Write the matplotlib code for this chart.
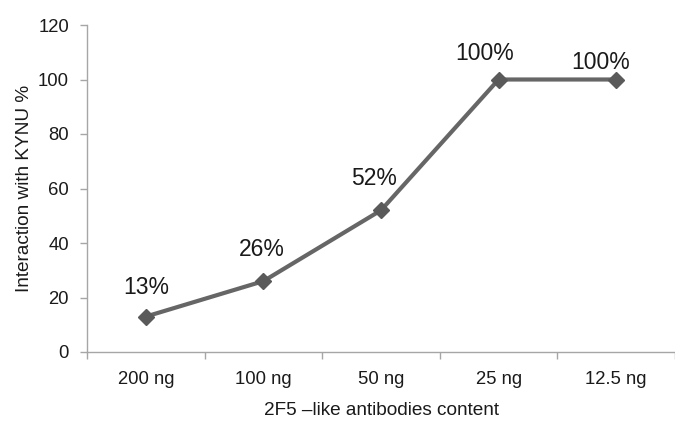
import matplotlib
matplotlib.use("Agg")
import matplotlib.pyplot as plt

# dados do gráfico
categorias = ["200 ng", "100 ng", "50 ng", "25 ng", "12.5 ng"]
valores = [13, 26, 52, 100, 100]
rotulos = ["13%", "26%", "52%", "100%", "100%"]

# deslocamento dos rótulos (em pontos)
desloc = [(0, 21), (-1, 23), (-5, 23), (-10, 19), (-11, 12)]

plt.rcParams["font.family"] = ["Liberation Sans", "DejaVu Sans"]

fig = plt.figure(figsize=(6.75, 4.26), dpi=100)
ax = fig.add_axes([87 / 675, 74 / 426, 588 / 675, 327 / 426])

x = list(range(len(categorias)))
ax.plot(x, valores, color="#666666", linewidth=3, marker="D",
        markersize=8.5, markerfacecolor="#5a5a5a", markeredgecolor="#5a5a5a")

for xi, v, r, d in zip(x, valores, rotulos, desloc):
    ax.annotate(r, (xi, v), xytext=d, textcoords="offset points",
                ha="center", va="center", fontsize=16.5, color="#1a1a1a",
                annotation_clip=False)

ax.set_xlim(-0.5, -0.5 + 588 / 119)
ax.set_ylim(0, 120)
ax.set_yticks(range(0, 121, 20))

ax.set_xticks(x)
ax.set_xticklabels(categorias)
ax.set_xticks([i - 0.5 for i in range(len(categorias) + 1)], minor=True)
ax.tick_params(axis="x", which="major", length=0, pad=14, labelsize=13.3,
               labelcolor="#1a1a1a")
ax.tick_params(axis="x", which="minor", length=5, color="#a6a6a6", width=1)
ax.tick_params(axis="y", length=5, color="#a6a6a6", width=1, pad=8,
               labelsize=13.3, labelcolor="#1a1a1a")

for lado in ["top", "right"]:
    ax.spines[lado].set_visible(False)
for lado in ["left", "bottom"]:
    ax.spines[lado].set_color("#a6a6a6")
    ax.spines[lado].set_linewidth(1)

ax.set_xlabel("2F5 \u2013like antibodies content", fontsize=13.7,
              color="#1a1a1a", labelpad=10)
ax.set_ylabel("Interaction with KYNU %", fontsize=13.7, color="#1a1a1a",
              labelpad=3.5)

fig.savefig("out.png", dpi=100)
